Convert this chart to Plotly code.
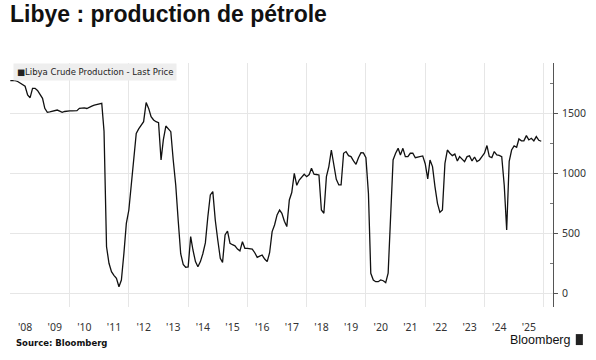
import plotly.graph_objects as go
import pandas as pd

# Monthly Libya crude production (kb/d), Jan 2008 onwards
start_month = "2008-01-01"
values = [
    # 2008
    1772, 1772, 1772, 1765, 1750, 1736, 1725, 1653, 1630, 1708, 1708, 1690,
    # 2009
    1660, 1625, 1541, 1508, 1512, 1515, 1522, 1527, 1518, 1508, 1515, 1520,
    # 2010
    1520, 1520, 1518, 1522, 1541, 1543, 1545, 1540, 1547, 1560, 1568, 1575,
    # 2011
    1580, 1583, 1350, 388, 250, 180, 150, 125, 55, 111, 333, 583,
    # 2012
    694, 917, 1167, 1333, 1370, 1403, 1430, 1589, 1541, 1472, 1444, 1430,
    # 2013
    1422, 1111, 1278, 1394, 1375, 1347, 1111, 900, 600, 330, 240, 217,
    # 2014
    220, 472, 361, 264, 222, 264, 330, 420, 640, 820, 847, 611,
    # 2015
    444, 292, 258, 486, 519, 417, 405, 396, 369, 354, 430, 375,
    # 2016
    375, 372, 369, 338, 300, 310, 319, 286, 264, 338, 514, 569,
    # 2017
    653, 694, 667, 600, 556, 778, 840, 1000, 900, 944, 970, 992,
    # 2018
    972, 990, 1042, 992, 990, 986, 694, 667, 972, 1056, 1194, 1083,
    # 2019
    950, 903, 903, 1167, 1181, 1147, 1139, 1103, 1075, 1130, 1172, 1170,
    # 2020
    1130, 833, 167, 111, 97, 97, 111, 105, 89, 167, 611, 1111,
    # 2021
    1167, 1208, 1153, 1208, 1139, 1139, 1167, 1167, 1130, 1135, 1139, 1145,
    # 2022
    1080, 953, 1111, 1056, 889, 750, 675, 694, 1083, 1194, 1167, 1147,
    # 2023
    1160, 1103, 1139, 1119, 1097, 1139, 1145, 1103, 1136, 1097, 1111, 1139,
    # 2024
    1167, 1231, 1139, 1130, 1181, 1153, 1150, 1139, 900, 528, 1100, 1194,
    # 2025
    1228, 1217, 1286, 1270, 1270, 1314, 1278, 1292, 1270, 1306, 1275, 1267,
]
dates = pd.date_range(start_month, periods=len(values), freq="MS")

year_labels = ["'08", "'09", "'10", "'11", "'12", "'13", "'14", "'15", "'16",
               "'17", "'18", "'19", "'20", "'21", "'22", "'23", "'24", "'25"]
label_years = list(range(2008, 2026))
label_positions = [f"{y}-07-02" for y in label_years]
grid_years = [f"{y}-01-01" for y in range(2010, 2027, 2)]
y_ticks = [0, 500, 1000, 1500]
x_range = ["2007-12-28", "2026-04-25"]

fig = go.Figure()
fig.add_trace(go.Scatter(
    x=dates, y=values, mode="lines",
    line=dict(color="#111111", width=1.3),
    name="Libya Crude Production - Last Price",
    showlegend=False,
    hoverinfo="skip",
))

fig.update_layout(
    width=596, height=360,
    margin=dict(l=10, r=39, t=63, b=53),
    paper_bgcolor="white", plot_bgcolor="white",
    title=dict(
        text="<b>Libye : production de pétrole</b>",
        x=0, xref="paper", xanchor="left",
        y=0.985, yref="container", yanchor="top",
        pad=dict(l=0),
        font=dict(family="Liberation Sans, Arial, sans-serif", size=23, color="#111111"),
    ),
    xaxis=dict(
        type="date",
        range=x_range,
        tickmode="array", tickvals=label_positions, ticktext=year_labels,
        ticks="", showgrid=False, zeroline=False, showline=False,
        ticklabelstandoff=12,
        tickfont=dict(family="Noto Sans, DejaVu Sans, sans-serif", size=10.5, color="#333333"),
    ),
    xaxis2=dict(
        type="date", overlaying="x", matches="x", side="bottom",
        range=x_range,
        tickmode="array", tickvals=grid_years,
        showticklabels=False, ticks="", showgrid=True,
        gridcolor="#e6e6e6", gridwidth=1, zeroline=False, showline=False,
    ),
    yaxis=dict(
        side="right",
        range=[-114, 1919],
        tickmode="array", tickvals=y_ticks,
        showgrid=True, gridcolor="#e6e6e6", gridwidth=1,
        zeroline=False,
        showline=True, linecolor="#555555", linewidth=1,
        ticks="outside", ticklen=4, tickcolor="#555555",
        ticklabelstandoff=2,
        tickfont=dict(family="Noto Sans, DejaVu Sans, sans-serif", size=10.5, color="#333333"),
        minor=dict(tickvals=[250, 750, 1250, 1750], ticks="inside", ticklen=3,
                   tickcolor="#777777", showgrid=False),
    ),
)

# invisible trace to activate the grid axis
fig.add_trace(go.Scatter(x=[], y=[], xaxis="x2", yaxis="y", showlegend=False))

# legend-like label box
fig.add_annotation(
    x=0.0055, y=0.965, xref="paper", yref="paper",
    xanchor="left", yanchor="middle",
    text="■Libya Crude Production - Last Price",
    showarrow=False,
    font=dict(family="DejaVu Sans, sans-serif", size=8.5, color="#222222"),
    bgcolor="#eeeeee", borderpad=3,
)
fig.add_annotation(
    x=0.0073, y=-0.1475, xref="paper", yref="paper",
    text="<b>Source: Bloomberg</b>", showarrow=False,
    xanchor="left", yanchor="middle",
    font=dict(family="DejaVu Sans, sans-serif", size=8.5, color="#111111"),
)
fig.add_annotation(
    x=1.035, y=-0.135, xref="paper", yref="paper",
    text="Bloomberg", showarrow=False,
    xanchor="right", yanchor="middle",
    font=dict(family="Liberation Sans, Arial, sans-serif", size=12.5, color="#111111"),
)
fig.add_shape(
    type="rect", xref="paper", yref="paper",
    x0=1.042, x1=1.055, y0=-0.156, y1=-0.111,
    fillcolor="#222222", line=dict(width=0),
)

fig.write_html("out.html", config={"displayModeBar": False},
               post_script="document.body.style.margin='0';")
